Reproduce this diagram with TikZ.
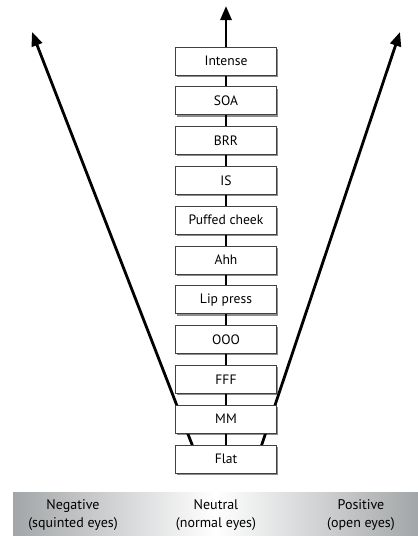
\documentclass[tikz,border=0pt]{standalone}
\usepackage{fontspec}
\setmainfont{PT Sans}
\usetikzlibrary{arrows.meta,shadows,backgrounds}
\definecolor{bargray}{RGB}{163,166,168}
\begin{document}
\begin{tikzpicture}[x=1pt,y=-1pt,
  stage/.style={draw=black!75, line width=0.7pt, fill=white,
    minimum width=101pt, minimum height=28pt, inner sep=0pt,
    font=\fontsize{13.6}{15}\selectfont,
    drop shadow={shadow xshift=1.2pt, shadow yshift=-1.8pt, opacity=0.45, fill=black}},
  axisline/.style={line width=2.8pt, -{Triangle[length=14pt,width=11pt]}},
  catlabel/.style={align=center, font=\fontsize{14}{18.5}\selectfont}]
\useasboundingbox (0,0) rectangle (418,536);
% bottom bar
\shade[left color=bargray, right color=bargray, middle color=white] (13,492) rectangle (418,536);
\node[catlabel] (neg) at (73,515) {Negative\\(squinted eyes)};
\node[catlabel] (neu) at (216,515) {Neutral\\(normal eyes)};
\node[catlabel] (pos) at (361,515) {Positive\\(open eyes)};
% stages
\node[stage] (intense) at (226,61) {Intense};
\node[stage] (soa) at (226,100.8) {SOA};
\node[stage] (brr) at (226,140.6) {BRR};
\node[stage] (is) at (226,180.4) {IS};
\node[stage] (puffed) at (226,220.2) {Puffed cheek};
\node[stage] (ahh) at (226,260) {Ahh};
\node[stage] (lip) at (226,299.8) {Lip press};
\node[stage] (ooo) at (226,339.6) {OOO};
\node[stage] (fff) at (226,379.4) {FFF};
\node[stage] (mm) at (226,419.2) {MM};
\node[stage] (flat) at (226,459) {Flat};
% axes
\coordinate (ctip) at (226,6);
\coordinate (ltip) at (32,32);
\coordinate (rtip) at (400,32);
\coordinate (lstart) at (193,447);
\coordinate (rstart) at (261,447);
\begin{pgfonlayer}{background}
\draw[axisline] (flat.center) -- (ctip);
\draw[axisline] (lstart) -- (ltip);
\draw[axisline] (rstart) -- (rtip);
\end{pgfonlayer}
\end{tikzpicture}
\end{document}
